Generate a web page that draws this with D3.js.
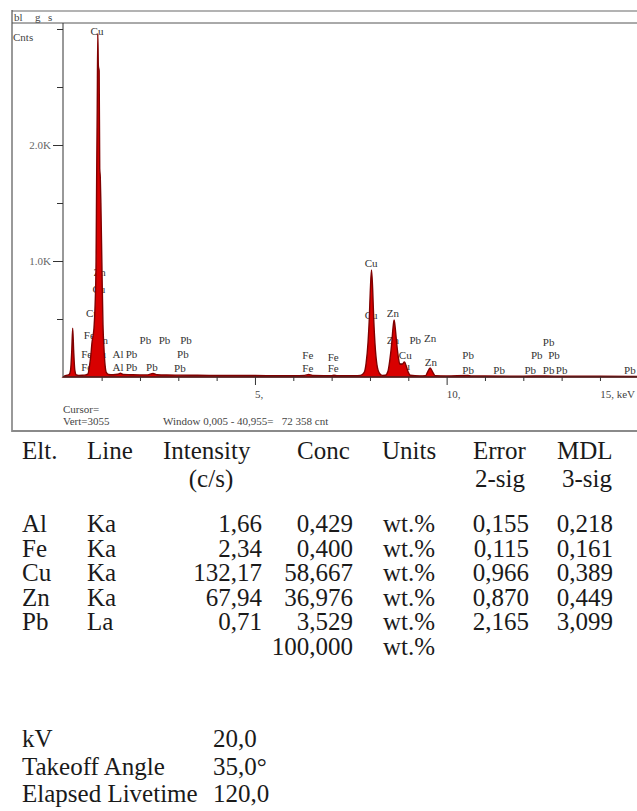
<!DOCTYPE html>
<html><head><meta charset="utf-8">
<script src="https://cdn.jsdelivr.net/npm/d3@7"></script>
<style>
html,body{margin:0;padding:0;background:#fff;}
svg{display:block;}
text{white-space:pre;}
</style></head><body>
<svg id="c" width="637" height="811"></svg>
<script>
// ---------- DATA ----------
const spectrumKeV = [0.00,0.05,0.10,0.15,0.19,0.22,0.245,0.27,0.30,0.34,0.40,0.50,0.58,0.64,0.69,0.72,0.75,0.78,0.80,0.83,0.855,0.87,0.885,0.90,0.915,0.935,0.95,0.965,0.98,1.01,1.035,1.06,1.09,1.12,1.18,1.30,1.42,1.49,1.56,1.75,2.00,2.20,2.34,2.45,2.70,3.00,3.50,4.00,4.50,5.00,5.50,6.00,6.30,6.40,6.50,7.00,7.06,7.15,7.60,7.75,7.85,7.90,7.95,7.98,8.01,8.04,8.07,8.10,8.13,8.18,8.25,8.32,8.40,8.47,8.52,8.57,8.60,8.63,8.66,8.70,8.74,8.78,8.84,8.90,8.95,9.00,9.05,9.30,9.45,9.50,9.57,9.64,9.70,10.00,10.55,10.65,11.00,12.00,12.60,13.00,14.00,15.00];
const spectrumCounts = [0,12,15,20,60,220,420,230,60,18,14,15,18,25,110,190,300,360,420,620,1000,1700,2300,2960,2680,2640,1800,1720,1500,900,450,250,100,40,22,20,24,32,22,20,18,18,30,20,17,16,15,14,14,13,12,12,14,22,13,12,15,11,11,14,40,120,300,480,750,922,760,480,290,110,30,14,15,50,150,300,420,491,420,280,170,110,110,130,90,40,15,10,12,40,78,40,12,9,14,8,8,7,9,6,6,5];

// peak labels: element, energy (keV), vertical level (counts) of label centre
const labelText  = ["Cu","Zn","Cu","Cu","Fe","Zn","Pb","Pb","Pb","Fe","Cu","Al","Pb","Pb","Fe","Cu","Al","Pb","Pb","Pb",
                    "Fe","Fe","Fe","Fe","Cu","Cu","Zn","Zn","Pb","Zn","Cu","Cu","Zn",
                    "Pb","Pb","Pb","Pb","Pb","Pb","Pb","Pb","Pb","Pb"];
const labelKeV   = [0.88,0.95,0.93,0.76,0.68,1.01,2.14,2.64,3.20,0.61,0.95,1.43,1.78,3.12,0.61,0.95,1.43,1.78,2.31,3.04,
                    6.38,6.38,7.04,7.04,8.03,8.03,8.60,8.60,9.18,9.57,8.92,8.88,9.59,
                    10.56,10.56,11.37,12.18,12.35,12.66,12.80,12.66,13.00,14.78];
const labelLevel = [2983,905,759,552,362,319,319,319,319,198,198,198,198,198,86,86,86,86,86,78,
                    190,78,172,78,983,534,552,319,319,336,190,95,129,
                    190,60,60,60,190,302,190,60,60,60];

const yMinorTicks = [500,1500,2500,3000];
const yMajorTicks = [1000,2000];
const yTickLabels = ["1.0K","2.0K"];
const xMinorTicks = [1,2,3,4,6,7,8,9,11,12,13,14];
const xMajorTicks = [5,10,15];
const xTickLabels = ["5,","10,","15, keV"];

const headerText = ["bl","g","s"];
const cursorText = ["Cursor=","Vert=3055","Window 0,005 - 40,955=   72 358 cnt"];

const colHeads1 = ["Elt.","Line","Intensity","Conc","Units","Error","MDL"];
const colHeads2 = ["(c/s)","2-sig","3-sig"];
const elements  = ["Al","Fe","Cu","Zn","Pb"];
const lineNames = ["Ka","Ka","Ka","Ka","La"];
const intensity = [1.66,2.34,132.17,67.94,0.71];
const conc      = [0.429,0.400,58.667,36.976,3.529];
const concTotal = 100.000;
const unitName  = "wt.%";
const error2sig = [0.155,0.115,0.966,0.870,2.165];
const mdl3sig   = [0.218,0.161,0.389,0.449,3.099];
const condNames = ["kV","Takeoff Angle","Elapsed Livetime"];
const condVals  = ["20,0","35,0°","120,0"];

// ---------- DRAW ----------
const svg = d3.select("#c");
const loc = d3.formatLocale({decimal:",",thousands:" ",grouping:[3],currency:["",""]});
const f2 = loc.format(".2f"), f3 = loc.format(".3f");

const x = d3.scaleLinear().domain([0,15]).range([63.3,638.3]);
const y = d3.scaleLinear().domain([0,3000]).range([377,29]);
const serif = "'Liberation Serif','Times New Roman',serif";

// frame
const frame = svg.append("g").attr("fill","none");
frame.append("line").attr("x1",12).attr("x2",637).attr("y1",11).attr("y2",11).attr("stroke","#9a9a9a").attr("stroke-width",1.5);
frame.append("line").attr("x1",12).attr("x2",637).attr("y1",23).attr("y2",23).attr("stroke","#555").attr("stroke-width",1);
frame.append("line").attr("x1",12).attr("x2",12).attr("y1",10).attr("y2",432).attr("stroke","#555").attr("stroke-width",1.2);
frame.append("line").attr("x1",12).attr("x2",637).attr("y1",431).attr("y2",431).attr("stroke","#8a8a8a").attr("stroke-width",2);

const small = svg.append("g").attr("font-family",serif).attr("font-size",11).attr("fill","#444");
const hx = [14,35,48];
headerText.forEach((t,i)=>small.append("text").attr("x",hx[i]).attr("y",17).attr("dominant-baseline","central").text(t));
small.append("text").attr("x",13).attr("y",37).attr("dominant-baseline","central").text("Cnts");

// peak labels (under the spectrum)
const lab = svg.append("g").attr("font-family",serif).attr("font-size",11).attr("fill","#333").attr("text-anchor","middle");
labelText.forEach((t,i)=>{
  lab.append("text").attr("x",x(labelKeV[i])).attr("y",y(labelLevel[i])).attr("dominant-baseline","central").text(t);
});

// spectrum
const pts = spectrumKeV.map((k,i)=>[k,spectrumCounts[i]]);
svg.append("path").datum(pts)
  .attr("d",d3.area().x(d=>x(d[0])).y0(y(0)).y1(d=>y(d[1])).curve(d3.curveMonotoneX))
  .attr("fill","#d80000").attr("stroke","#800000").attr("stroke-width",1.4);

// axes
const axCol = "#333";
function styleAxis(g){ g.select(".domain").remove(); g.selectAll("line").attr("stroke",axCol); g.selectAll("text").attr("font-family",serif).attr("font-size",11).attr("fill","#666"); }
svg.append("g").attr("transform","translate(63,0)")
  .call(d3.axisLeft(y).tickValues(yMinorTicks).tickSize(6).tickFormat("")).call(styleAxis);
svg.append("g").attr("transform","translate(63,0)")
  .call(d3.axisLeft(y).tickValues(yMajorTicks).tickSize(10).tickPadding(2).tickFormat((d,i)=>yTickLabels[i])).call(styleAxis);
svg.append("g").attr("transform","translate(0,377)")
  .call(d3.axisBottom(x).tickValues(xMinorTicks).tickSize(4).tickFormat("")).call(styleAxis);
svg.append("g").attr("transform","translate(0,377)")
  .call(d3.axisBottom(x).tickValues(xMajorTicks).tickSize(8).tickFormat("")).call(styleAxis);
svg.append("line").attr("x1",63).attr("x2",63).attr("y1",23).attr("y2",377).attr("stroke",axCol);
svg.append("line").attr("x1",63).attr("x2",637).attr("y1",377).attr("y2",377).attr("stroke",axCol);
xMajorTicks.forEach((v,i)=>{
  const t = small.append("text").attr("y",394).attr("dominant-baseline","central").text(xTickLabels[i]);
  if (x(v) > 600) t.attr("x",635).attr("text-anchor","end"); else t.attr("x",x(v));
});
small.append("text").attr("x",63).attr("y",409).attr("dominant-baseline","central").text(cursorText[0]);
small.append("text").attr("x",63).attr("y",421).attr("dominant-baseline","central").text(cursorText[1]);
small.append("text").attr("x",163).attr("y",421).attr("dominant-baseline","central").text(cursorText[2]);

// table
const tb = svg.append("g").attr("font-family",serif).attr("font-size",25).attr("fill","#1a1a1a");
const headX = [22,87,163,297,382,473,557];
colHeads1.forEach((t,i)=>tb.append("text").attr("x",headX[i]).attr("y",459).text(t));
const head2X = [211,500,587];
colHeads2.forEach((t,i)=>tb.append("text").attr("x",head2X[i]).attr("y",487).attr("text-anchor","middle").text(t));
const rowY = d3.scaleLinear().domain([0,1]).range([532,556.5]);
elements.forEach((e,i)=>{
  const yy = rowY(i);
  tb.append("text").attr("x",22).attr("y",yy).text(e);
  tb.append("text").attr("x",87).attr("y",yy).text(lineNames[i]);
  tb.append("text").attr("x",262).attr("y",yy).attr("text-anchor","end").text(f2(intensity[i]));
  tb.append("text").attr("x",353).attr("y",yy).attr("text-anchor","end").text(f3(conc[i]));
  tb.append("text").attr("x",383).attr("y",yy).text(unitName);
  tb.append("text").attr("x",529).attr("y",yy).attr("text-anchor","end").text(f3(error2sig[i]));
  tb.append("text").attr("x",613).attr("y",yy).attr("text-anchor","end").text(f3(mdl3sig[i]));
});
tb.append("text").attr("x",353).attr("y",rowY(5)).attr("text-anchor","end").text(f3(concTotal));
tb.append("text").attr("x",383).attr("y",rowY(5)).text(unitName);
const condY = [747,775,802];
condNames.forEach((n,i)=>{
  tb.append("text").attr("x",22).attr("y",condY[i]).text(n);
  tb.append("text").attr("x",213).attr("y",condY[i]).text(condVals[i]);
});
</script>
</body></html>
